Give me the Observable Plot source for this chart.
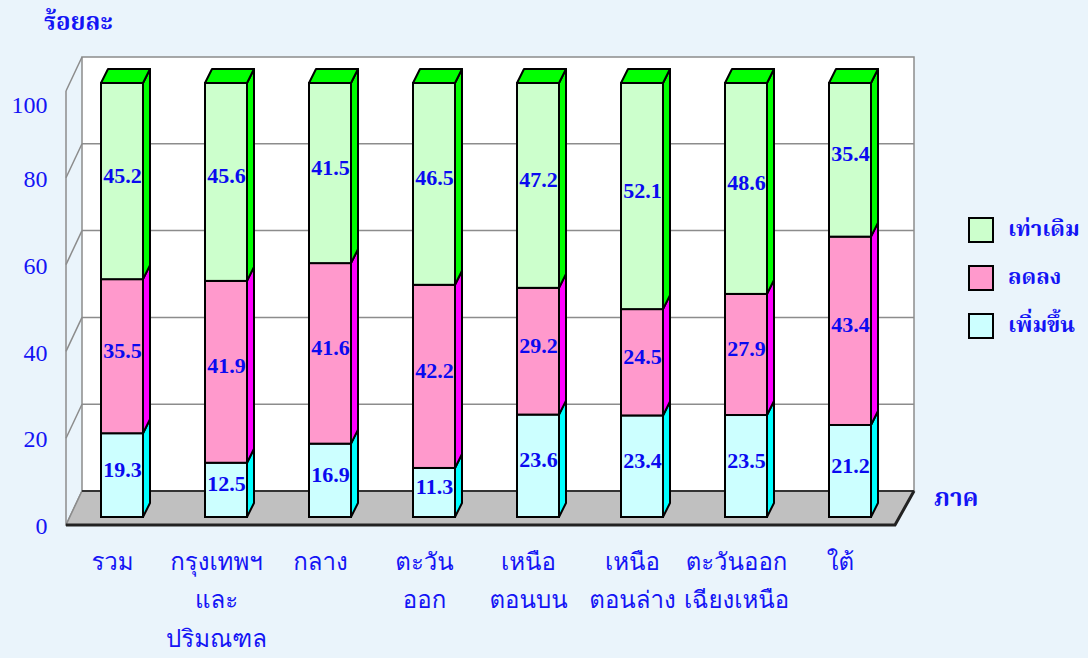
<!DOCTYPE html>
<html>
<head>
<meta charset="utf-8">
<script src="https://cdn.jsdelivr.net/npm/d3@7"></script>
<script src="https://cdn.jsdelivr.net/npm/@observablehq/plot@0.6"></script>
<style>
html, body { margin: 0; padding: 0; background: #EAF4FB; }
#wrap { position: relative; width: 1088px; height: 658px; overflow: hidden; background: #EAF4FB; }
#wrap svg { position: absolute; left: 0; top: 0; }
.thai { font-family: "Noto Serif Thai", "Noto Sans Thai", "Loma", "Garuda", "Liberation Serif", serif; color: #1414F5; }
#title { position: absolute; left: 44px; top: 4px; font-size: 24px; font-weight: bold; }
#xlabel { position: absolute; left: 934px; top: 480px; font-size: 24px; font-weight: bold; }
.leg { position: absolute; left: 968px; height: 26px; display: flex; align-items: center; }
.leg .sw { width: 22px; height: 22px; border: 2px solid #000; margin-right: 14px; flex: none; }
.leg span { font-size: 22px; font-weight: bold; white-space: nowrap; }
</style>
</head>
<body>
<div id="wrap">
  <div id="title" class="thai">ร้อยละ</div>
  <div id="xlabel" class="thai">ภาค</div>
</div>
<script>
// ---- data ----
const regions = ["รวม", "กรุงเทพฯ\nและ\nปริมณฑล", "กลาง", "ตะวัน\nออก", "เหนือ\nตอนบน", "เหนือ\nตอนล่าง", "ตะวันออก\nเฉียงเหนือ", "ใต้"];
const increased = [19.3, 12.5, 16.9, 11.3, 23.6, 23.4, 23.5, 21.2];
const decreased = [35.5, 41.9, 41.6, 42.2, 29.2, 24.5, 27.9, 43.4];
const unchanged = [45.2, 45.6, 41.5, 46.5, 47.2, 52.1, 48.6, 35.4];
const seriesNames = ["เพิ่มขึ้น", "ลดลง", "เท่าเดิม"];
const yTicks = [0, 20, 40, 60, 80, 100];

// ---- styles ----
const frontColors = ["#CCFFFF", "#FF99CC", "#CCFFCC"];
const sideColors = ["#00FFFF", "#FF00FF", "#00FF00"];
const topColor = "#00FF00";
const BAR = {dx: 7, dy: -14};
const FRONT = {dx: -4, dy: 8};
const BACK = {dx: 12, dy: -26};
const thaiFont = '"Loma", "Norasi", "Kinnari", "Noto Serif Thai", "Noto Sans Thai", "Garuda", "Liberation Serif", serif';
const numFont = '"Liberation Serif", "Times New Roman", serif';
const blue = "#1414F5";

// ---- table built from the arrays ----
const seriesValues = [increased, decreased, unchanged];
const rows = [];
regions.forEach((region, i) => {
  let acc = 0;
  seriesValues.forEach((vals, s) => {
    const v = vals[i];
    rows.push({region, series: seriesNames[s], si: s, value: v, y1: acc, y2: acc + v, top: s === seriesValues.length - 1});
    acc += v;
  });
});

function frame(index, scales, values, dim) {
  const y = scales.y;
  const x0 = dim.marginLeft, x1 = dim.width - dim.marginRight;
  const yb = y(0), yt = y(yTicks[yTicks.length - 1]);
  const g = d3.create("svg:g");
  g.append("rect")
    .attr("x", x0 + BACK.dx).attr("y", yt + BACK.dy)
    .attr("width", x1 - x0).attr("height", yb - yt)
    .attr("fill", "#FFFFFF").attr("stroke", "#8C8C8C").attr("stroke-width", 1.5);
  for (const t of yTicks) {
    const yy = y(t);
    if (t !== 0 && t !== yTicks[yTicks.length - 1]) {
      g.append("line")
        .attr("x1", x0 + BACK.dx).attr("x2", x1 + BACK.dx)
        .attr("y1", yy + BACK.dy).attr("y2", yy + BACK.dy)
        .attr("stroke", "#8C8C8C").attr("stroke-width", 1.5);
    }
    g.append("line")
      .attr("x1", x0 + FRONT.dx).attr("y1", yy + FRONT.dy)
      .attr("x2", x0 + BACK.dx).attr("y2", yy + BACK.dy)
      .attr("stroke", "#8C8C8C").attr("stroke-width", 1.5);
  }
  g.append("line")
    .attr("x1", x0 + FRONT.dx).attr("x2", x0 + FRONT.dx)
    .attr("y1", yt + FRONT.dy).attr("y2", yb + FRONT.dy)
    .attr("stroke", "#8C8C8C").attr("stroke-width", 1.5);
  const p = [
    [x0 + FRONT.dx, yb + FRONT.dy],
    [x1 + FRONT.dx - 3, yb + FRONT.dy],
    [x1 + BACK.dx, yb + BACK.dy],
    [x0 + BACK.dx, yb + BACK.dy]
  ];
  g.append("path").attr("d", "M" + p.join("L") + "Z")
    .attr("fill", "#C0C0C0").attr("stroke", "#8C8C8C").attr("stroke-width", 1.5);
  g.append("path").attr("d", `M${p[3]}L${p[2]}`).attr("fill", "none").attr("stroke", "#333").attr("stroke-width", 2);
  g.append("path").attr("d", `M${p[0]}L${p[1]}L${p[2]}`).attr("fill", "none").attr("stroke", "#222").attr("stroke-width", 3).attr("stroke-linejoin", "miter");
  return g.node();
}

function barDepth(index, scales) {
  const x = scales.x, y = scales.y;
  const bw = typeof x.bandwidth === "function" ? x.bandwidth() : 42;
  const g = d3.create("svg:g").attr("stroke", "#000").attr("stroke-width", 2).attr("stroke-linejoin", "round");
  for (const r of rows) {
    const xl = x(r.region), xr = xl + bw;
    const ya = y(r.y1), yb = y(r.y2);
    g.append("path")
      .attr("d", `M${xr},${ya}L${xr},${yb}L${xr + BAR.dx},${yb + BAR.dy}L${xr + BAR.dx},${ya + BAR.dy}Z`)
      .attr("fill", sideColors[r.si]);
    if (r.top) {
      g.append("path")
        .attr("d", `M${xl},${yb}L${xr},${yb}L${xr + BAR.dx},${yb + BAR.dy}L${xl + BAR.dx},${yb + BAR.dy}Z`)
        .attr("fill", topColor);
    }
  }
  return g.node();
}

const topTick = yTicks.slice(-1);
const otherTicks = yTicks.slice(0, -1);

const chart = Plot.plot({
  width: 1088,
  height: 658,
  marginLeft: 70,
  marginRight: 186,
  marginTop: 83,
  marginBottom: 141,
  style: {background: "transparent", overflow: "visible"},
  x: {type: "band", domain: regions, paddingInner: 0.596, paddingOuter: 0.298, axis: null},
  y: {domain: [0, 100], axis: null},
  color: {domain: seriesNames, range: frontColors},
  marks: [
    frame,
    Plot.barY(rows, {x: "region", y1: "y1", y2: "y2", fill: "series", stroke: "#000", strokeWidth: 2, insetLeft: 0, insetRight: 0}),
    barDepth,
    Plot.text(rows, {
      x: "region", y: d => (d.y1 + d.y2) / 2, text: d => d.value.toFixed(1),
      fill: "#0A0AF0", fontWeight: "bold", fontSize: 22, fontFamily: numFont, dx: 0, dy: -6
    }),
    Plot.text(otherTicks, {
      y: d => d, text: d => String(d), frameAnchor: "left", textAnchor: "end",
      dx: -23, dy: 9, fill: blue, fontSize: 24, fontFamily: numFont
    }),
    Plot.text(topTick, {
      y: d => d, text: d => String(d), frameAnchor: "left", textAnchor: "end",
      dx: -23, dy: 22, fill: blue, fontSize: 24, fontFamily: numFont
    }),
    Plot.text(regions, {
      x: d => d, text: d => d, frameAnchor: "bottom", lineAnchor: "top",
      dx: -10, dy: 25, lineHeight: 1.6, fill: blue, fontSize: 24, fontFamily: thaiFont
    })
  ]
});

const wrap = document.getElementById("wrap");
wrap.insertBefore(chart, wrap.firstChild);

const legendTops = [217, 265, 313];
seriesNames.slice().reverse().forEach((name, k) => {
  const si = seriesNames.indexOf(name);
  const item = document.createElement("div");
  item.className = "leg thai";
  item.style.top = legendTops[k] + "px";
  item.innerHTML = `<div class="sw" style="background:${frontColors[si]}"></div><span>${name}</span>`;
  wrap.appendChild(item);
});
</script>
</body>
</html>
